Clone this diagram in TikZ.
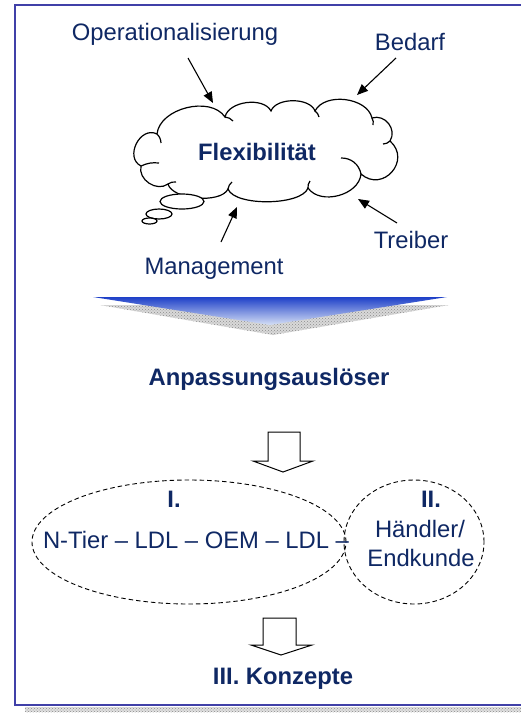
\documentclass[tikz,border=0pt]{standalone}
\usepackage{fontspec}
\setmainfont{Liberation Sans}
\usetikzlibrary{arrows.meta,patterns,shapes.geometric}
\definecolor{navy}{HTML}{0F2864}
\definecolor{frameblue}{RGB}{64,64,168}
\definecolor{deepblue}{RGB}{30,64,200}
\definecolor{paleblue}{RGB}{214,224,246}
\begin{document}
\begin{tikzpicture}[x=1pt,y=1pt,
  lbl/.style={text=navy,font=\fontsize{23.8}{28}\selectfont,inner sep=0pt,anchor=base},
  blbl/.style={text=navy,font=\fontsize{23.8}{28}\selectfont\bfseries,inner sep=0pt,anchor=base},
  ptr/.style={line width=1.1pt,-{Triangle[length=11pt,width=9pt]}},
  cl/.style={line width=1.2pt},
  dashell/.style={draw,ellipse,dash pattern=on 4.5pt off 3pt,line width=0.9pt,inner sep=0pt},
  hollow/.style={draw,line width=1pt,fill=white},
  shadowpat/.style={pattern=crosshatch dots,pattern color=gray!90}]
\fill[white] (0,0) rectangle (521,-713);
\useasboundingbox (0,0) rectangle (521,-713);

% frame
\fill[gray!25] (25,-707) rectangle (521,-712);
\fill[shadowpat] (25,-707) rectangle (521,-712);
\draw[frameblue,line width=2pt] (530,-5) -- (15,-5) -- (15,-705) -- (530,-705);

% cloud
\coordinate (J1) at (141,-166);
\coordinate (J2) at (157,-134);
\coordinate (J3) at (225,-117);
\coordinate (J4) at (271,-111);
\coordinate (J5) at (315,-111);
\coordinate (J6) at (372,-118);
\coordinate (J7) at (390,-141);
\coordinate (J8) at (361,-174);
\coordinate (J9) at (308,-188);
\coordinate (J10) at (228,-189);
\coordinate (J11) at (168,-184);
\draw[cl,fill=white] (J1) to[bend left=90,looseness=1.35] (J2)
  to[bend left=70,looseness=0.95] (J3)
  to[bend left=70,looseness=0.9] (J4)
  to[bend left=70,looseness=0.85] (J5)
  to[bend left=70,looseness=0.95] (J6)
  to[bend left=70,looseness=1.2] (J7)
  to[bend left=90,looseness=1.7] (J8)
  to[bend left=70,looseness=1.0] (J9)
  to[bend left=70,looseness=0.6] (J10)
  to[bend left=70,looseness=0.7] (J11)
  to[bend left=70,looseness=1.1] (J1);
% inner hooks
\draw[cl] (J1) to[bend left=15] (159,-163);
\draw[cl] (J2) to[bend left=20] (161,-143);
\draw[cl] (J3) to[bend left=20] (233,-121);
\draw[cl] (J5) to[bend left=20] (319,-117);
\draw[cl] (J6) to[bend left=20] (373,-125);
\draw[cl] (J7) to[bend left=20] (383,-144);
\draw[cl] (341,-158) to[bend left=40] (J8);
\draw[cl] (J9) to[bend left=20] (310,-181);
\draw[cl] (J10) to[bend left=20] (232,-182);
\draw[cl] (J11) to[bend left=20] (176,-182);
% thought bubbles
\draw[cl,fill=white] (182,-201.5) ellipse (22 and 7.5);
\draw[cl,fill=white] (159,-214) ellipse (13 and 5);
\draw[cl,fill=white] (149.5,-221) ellipse (7.5 and 3);

% labels round the cloud
\node[lbl] (oper) at (175,-40) {Operationalisierung};
\node[lbl] (bed) at (410,-50) {Bedarf};
\node[blbl] (flex) at (257,-160) {Flexibilität};
\node[lbl] (trei) at (411,-248) {Treiber};
\node[lbl] (mgmt) at (214,-274) {Management};

% arrows into the cloud
\coordinate (t1) at (188,-58);  \coordinate (h1) at (213,-103);
\coordinate (t2) at (396,-58);  \coordinate (h2) at (357,-95);
\coordinate (t3) at (397,-223); \coordinate (h3) at (358,-199);
\coordinate (t4) at (221,-242); \coordinate (h4) at (237,-207);
\draw[ptr] (t1) -- (h1);
\draw[ptr] (t2) -- (h2);
\draw[ptr] (t3) -- (h3);
\draw[ptr] (t4) -- (h4);

% funnel triangle
\fill[gray!30] (100,-305) -- (449,-305) -- (273,-335) -- cycle;
\fill[shadowpat] (100,-305) -- (449,-305) -- (273,-335) -- cycle;
\shade[top color=deepblue,bottom color=paleblue] (93,-297) -- (447,-297) -- (270,-325) -- cycle;

% middle
\node[blbl] (anp) at (269,-385) {Anpassungsauslöser};
\draw[hollow] (268,-432) -- (300,-432) -- (300,-461) -- (313,-461) -- (283,-472) -- (253,-461) -- (268,-461) -- cycle;

\node[dashell,minimum width=314,minimum height=124] (ellI) at (189,-542) {};
\node[dashell,minimum width=140,minimum height=124] (ellII) at (414,-542) {};
\node[blbl] (one) at (174,-507) {I.};
\node[blbl] (two) at (431,-507) {II.};
\node[lbl] (chain) at (196,-548) {N-Tier – LDL – OEM – LDL –};
\node[lbl] (hand) at (420,-537) {Händler/};
\node[lbl] (endk) at (421,-566) {Endkunde};

\draw[hollow] (263,-618) -- (296,-618) -- (296,-645) -- (312,-645) -- (281,-655) -- (251,-645) -- (263,-645) -- cycle;
\node[blbl] (konz) at (283,-684) {III. Konzepte};
\end{tikzpicture}
\end{document}
